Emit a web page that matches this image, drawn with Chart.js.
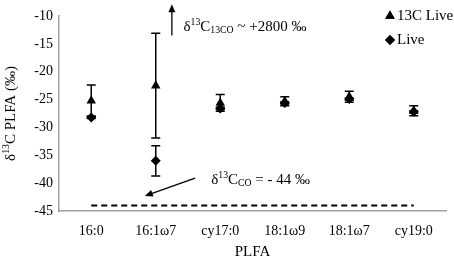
<!DOCTYPE html>
<html>
<head>
<meta charset="utf-8">
<script src="https://cdn.jsdelivr.net/npm/chart.js@4.4.1/dist/chart.umd.min.js"></script>
<style>
  html, body { margin: 0; padding: 0; background: #fff; }
  #wrap { width: 454px; height: 263px; position: relative; }
</style>
</head>
<body>
<div id="wrap"><canvas id="c" width="454" height="263"></canvas></div>
<script>
const categories = ['16:0', '16:1\u03c97', 'cy17:0', '18:1\u03c99', '18:1\u03c97', 'cy19:0'];
const live13C = [-25.2, -22.5, -25.6, -25.3, -24.5, -27.0];
const live13CErr = [2.8, 9.4, 1.5, 0.8, 1.0, 0.9];
const live = [-28.2, -36.0, -26.6, -25.6, -24.9, -27.2];
const liveErr = [0.2, 2.7, 0.2, 0.2, 0.2, 0.2];
const coLine = [-44, -44, -44, -44, -44, -44];
const yTicks = [-45, -40, -35, -30, -25, -20, -15, -10];

const SERIF = '"Liberation Serif", "Times New Roman", serif';

// draw text with super/subscript parts: [text, 'sup'|'sub'|null]
function richText(ctx, parts, x, y, size, align) {
  const fontFor = m => (m ? size * 0.65 : size) + 'px ' + SERIF;
  const widths = parts.map(([t, m]) => { ctx.font = fontFor(m); return ctx.measureText(t).width; });
  const total = widths.reduce((a, b) => a + b, 0);
  let cx = align === 'center' ? x - total / 2 : x;
  ctx.textAlign = 'left';
  ctx.textBaseline = 'middle';
  parts.forEach(([t, m], i) => {
    ctx.font = fontFor(m);
    const dy = m === 'sup' ? -size * 0.3 : m === 'sub' ? size * 0.25 : 0;
    ctx.fillText(t, cx, y + dy);
    cx += widths[i];
  });
}

function arrow(ctx, x1, y1, x2, y2) {
  const ang = Math.atan2(y2 - y1, x2 - x1);
  const len = 8, w = 3.5;
  ctx.beginPath();
  ctx.moveTo(x1, y1);
  ctx.lineTo(x2 - Math.cos(ang) * len * 0.7, y2 - Math.sin(ang) * len * 0.7);
  ctx.stroke();
  ctx.beginPath();
  ctx.moveTo(x2, y2);
  ctx.lineTo(x2 - Math.cos(ang) * len - Math.sin(ang) * w, y2 - Math.sin(ang) * len + Math.cos(ang) * w);
  ctx.lineTo(x2 - Math.cos(ang) * len + Math.sin(ang) * w, y2 - Math.sin(ang) * len - Math.cos(ang) * w);
  ctx.closePath();
  ctx.fill();
}

const errorBars = {
  id: 'errorBars',
  beforeDatasetsDraw(chart) {
    const { ctx, scales: { x, y } } = chart;
    ctx.save();
    ctx.strokeStyle = '#000';
    ctx.lineWidth = 1.5;
    [[live13C, live13CErr], [live, liveErr]].forEach(([vals, errs]) => {
      vals.forEach((v, i) => {
        const px = x.getPixelForValue(i);
        const top = y.getPixelForValue(v + errs[i]);
        const bot = y.getPixelForValue(v - errs[i]);
        ctx.beginPath();
        ctx.moveTo(px, top); ctx.lineTo(px, bot);
        ctx.moveTo(px - 4.5, top); ctx.lineTo(px + 4.5, top);
        ctx.moveTo(px - 4.5, bot); ctx.lineTo(px + 4.5, bot);
        ctx.stroke();
      });
    });
    ctx.restore();
  }
};

const annotations = {
  id: 'annotations',
  afterDraw(chart) {
    const { ctx, scales: { x, y }, chartArea } = chart;
    ctx.save();
    ctx.fillStyle = '#000';
    ctx.strokeStyle = '#000';
    ctx.lineWidth = 1.3;

    // y axis title
    ctx.save();
    ctx.translate(11, (chartArea.top + chartArea.bottom) / 2);
    ctx.rotate(-Math.PI / 2);
    richText(ctx, [['\u03b4', null], ['13', 'sup'], ['C PLFA (\u2030)', null]], 0, 0, 15, 'center');
    ctx.restore();

    // upward arrow and label
    arrow(ctx, x.getPixelForValue(1.25), y.getPixelForValue(-13.5), x.getPixelForValue(1.25), y.getPixelForValue(-7.9));
    richText(ctx, [['\u03b4', null], ['13', 'sup'], ['C', null], ['13CO', 'sub'], [' ~ +2800 \u2030', null]],
      x.getPixelForValue(1.43), y.getPixelForValue(-12), 15, 'left');

    // arrow to CO line and label
    arrow(ctx, x.getPixelForValue(1.61), y.getPixelForValue(-39.1), x.getPixelForValue(0.83), y.getPixelForValue(-42.3));
    richText(ctx, [['\u03b4', null], ['13', 'sup'], ['C', null], ['CO', 'sub'], [' = - 44 \u2030', null]],
      x.getPixelForValue(1.86), y.getPixelForValue(-39.4), 15, 'left');

    // legend
    const lx = 390;
    [['triangle', '13C Live', 16], ['rectRot', 'Live', 40]].forEach(([style, label, ly]) => {
      Chart.helpers.drawPoint(ctx, { pointStyle: style, radius: style === 'triangle' ? 5.5 : 5, borderWidth: 0 }, lx, ly);
      ctx.fill();
      ctx.font = '15px ' + SERIF;
      ctx.textAlign = 'left';
      ctx.textBaseline = 'middle';
      ctx.fillText(label, lx + 7, ly);
    });
    ctx.restore();
  }
};

new Chart(document.getElementById('c'), {
  type: 'line',
  data: {
    labels: categories,
    datasets: [
      {
        label: '13C Live',
        data: live13C,
        showLine: false,
        pointStyle: 'triangle',
        pointRadius: 5.5,
        pointBackgroundColor: '#000',
        pointBorderColor: '#000',
        pointBorderWidth: 0
      },
      {
        label: 'Live',
        data: live,
        showLine: false,
        pointStyle: 'rectRot',
        pointRadius: 5,
        pointBackgroundColor: '#000',
        pointBorderColor: '#000',
        pointBorderWidth: 0
      },
      {
        label: 'CO',
        data: coLine,
        borderColor: '#000',
        borderWidth: 2,
        borderDash: [6, 4],
        pointRadius: 0,
        fill: false
      }
    ]
  },
  options: {
    responsive: false,
    animation: false,
    devicePixelRatio: 1,
    layout: { padding: { left: 0, top: 16, right: 8, bottom: 0 } },
    plugins: { legend: { display: false }, tooltip: { enabled: false } },
    scales: {
      x: {
        offset: true,
        grid: { display: false, drawTicks: false },
        border: { color: '#a0a0a0', width: 1.5 },
        ticks: { color: '#000', padding: 12, maxRotation: 0, autoSkip: false, font: { family: SERIF, size: 14 } },
        title: { display: true, text: 'PLFA', color: '#000', padding: { bottom: 2 }, font: { family: SERIF, size: 15 } },
        afterFit: s => { s.height = 52; }
      },
      y: {
        min: -45,
        max: -10,
        afterBuildTicks: s => { s.ticks = yTicks.map(v => ({ value: v })); },
        grid: { display: false, drawTicks: false },
        border: { color: '#a0a0a0', width: 1.5 },
        ticks: { color: '#000', padding: 6, autoSkip: false, font: { family: SERIF, size: 14 } },
        afterFit: s => { s.width = 59; }
      }
    }
  },
  plugins: [errorBars, annotations]
});
</script>
</body>
</html>
